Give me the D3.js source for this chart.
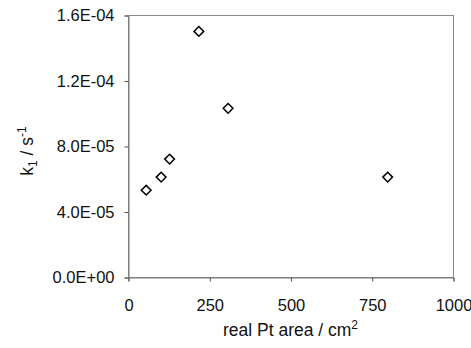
<!DOCTYPE html>
<html>
<head>
<meta charset="utf-8">
<script src="https://cdn.jsdelivr.net/npm/d3@7"></script>
<style>
  body { margin: 0; background: #fff; }
  text { font-family: "Liberation Sans", Arial, sans-serif; }
</style>
</head>
<body>
<div id="chart"></div>
<script>
// data
const areas = [56, 102, 128, 218, 308, 799];
const rates = [5.3e-5, 6.1e-5, 7.2e-5, 1.5e-4, 1.03e-4, 6.1e-5];
const xTicks = [0, 250, 500, 750, 1000];
const yTicks = [0, 4e-5, 8e-5, 1.2e-4, 1.6e-4];
const yTickLabels = ["0.0E+00", "4.0E-05", "8.0E-05", "1.2E-04", "1.6E-04"];

const width = 471, height = 348;
const margins = {top: 15, right: 18, bottom: 71, left: 128};

const svg = d3.select("#chart")
  .append("svg")
  .attr("width", width)
  .attr("height", height);

const xScale = d3.scaleLinear()
  .domain([0, 1000])
  .range([margins.left, width - margins.right]);

const yScale = d3.scaleLinear()
  .domain([0, 1.6e-4])
  .range([height - margins.bottom, margins.top]);

// frame (top and right)
svg.append("rect")
  .attr("x", margins.left + 0.5)
  .attr("y", margins.top + 0.5)
  .attr("width", width - margins.left - margins.right)
  .attr("height", height - margins.top - margins.bottom)
  .style("fill", "none")
  .style("stroke", "#8a8a8a");

// x-axis
const xAxis = d3.axisBottom(xScale)
  .tickValues(xTicks)
  .tickSize(4)
  .tickPadding(18)
  .tickFormat(d3.format("d"));
const gx = svg.append("g")
  .attr("transform", `translate(0.5,${height - margins.bottom + 0.5})`)
  .call(xAxis);

// y-axis
const yAxis = d3.axisLeft(yScale)
  .tickValues(yTicks)
  .tickSize(4)
  .tickPadding(10)
  .tickFormat((d, i) => yTickLabels[i]);
const gy = svg.append("g")
  .attr("transform", `translate(${margins.left + 0.5},0.5)`)
  .call(yAxis);

[gx, gy].forEach(g => {
  g.select(".domain").style("stroke", "#777");
  g.selectAll(".tick line").style("stroke", "#555");
  g.selectAll(".tick text")
    .style("font-size", "16.5px")
    .style("font-family", "Liberation Sans, Arial, sans-serif")
    .style("fill", "#111");
});

// points (open diamonds)
const diamond = d3.symbol().type(d3.symbolDiamond2).size(60);
svg.selectAll("path.pt")
  .data(areas.map((a, i) => ({x: a, y: rates[i]})))
  .join("path")
    .attr("class", "pt")
    .attr("transform", d => `translate(${xScale(d.x)},${yScale(d.y)})`)
    .attr("d", diamond)
    .style("fill", "#fff")
    .style("stroke", "#000")
    .style("stroke-width", 1.5);

// x label
const xl = svg.append("text")
  .attr("x", (margins.left + width - margins.right) / 2)
  .attr("y", 336)
  .attr("text-anchor", "middle")
  .style("font-size", "17.5px")
  .style("fill", "#111");
xl.append("tspan").text("real Pt area / cm");
xl.append("tspan").attr("dy", -7).style("font-size", "12px").text("2");

// y label
const yl = svg.append("text")
  .attr("transform", `translate(33,151) rotate(-90)`)
  .attr("text-anchor", "middle")
  .style("font-size", "17.5px")
  .style("fill", "#111");
yl.append("tspan").text("k");
yl.append("tspan").attr("dy", 4).style("font-size", "12px").text("1");
yl.append("tspan").attr("dy", -4).text(" / s");
yl.append("tspan").attr("dy", -7).style("font-size", "12px").text("-1");
</script>
</body>
</html>
